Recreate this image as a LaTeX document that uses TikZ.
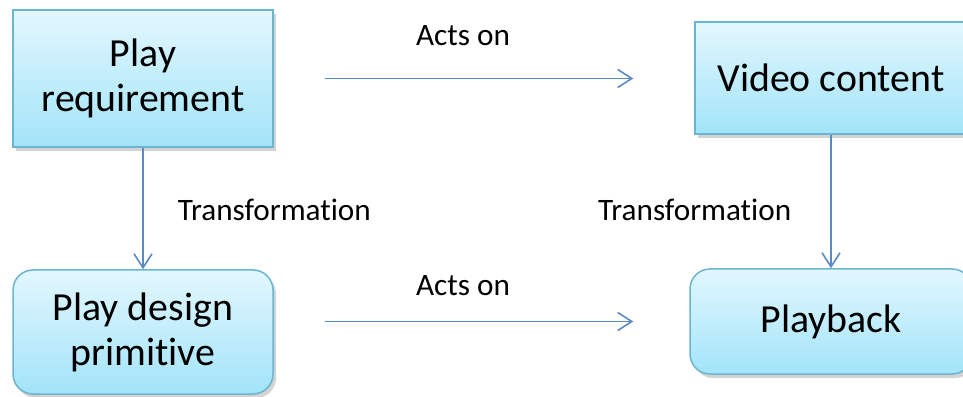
\documentclass[tikz,border=0pt]{standalone}
\usepackage{fontspec}
\setmainfont{Carlito}[Ligatures=NoCommon,RawFeature=-calt]
\usetikzlibrary{arrows.meta,positioning,shadows}
\definecolor{pbtop}{HTML}{E2F7FE}
\definecolor{pbbot}{HTML}{A2E4F9}
\definecolor{pbedge}{HTML}{6BB5D0}
\definecolor{pbarrow}{HTML}{5A89C6}
\tikzset{
  blk/.style={draw=pbedge,line width=0.75pt,top color=pbtop,bottom color=pbbot,
              align=center,inner sep=2pt,font=\fontsize{19.9}{22.5}\selectfont,
              drop shadow={shadow xshift=1.5pt,shadow yshift=-2pt,opacity=0.35}},
  rblk/.style={blk,rounded corners=10pt},
  ar/.style={-{Straight Barb[length=7pt,width=9pt]},line width=0.8pt,pbarrow},
  lab/.style={font=\fontsize{15.6}{18}\selectfont,text=black,inner sep=0pt},
}

\begin{document}
\begin{tikzpicture}[x=0.5pt,y=0.5pt]
    \path[use as bounding box,clip] (0,0) rectangle (963,396);
    \node[blk,minimum width=130pt,minimum height=68.5pt] (req) at (143,317.5) {Play\\requirement};
    \node[blk,minimum width=136pt,minimum height=56pt]   (vid) at (831,318)   {Video content};
    \node[rblk,minimum width=130pt,minimum height=62pt]  (prim) at (143,64)   {Play design\\primitive};
    \node[rblk,minimum width=141pt,minimum height=52.5pt] (pb) at (831,74.5)  {Playback};
    \draw[ar,shorten <=25.5pt,shorten >=30.5pt] (req.east) -- (req.east-|vid.west)
         node[lab,midway,yshift=21.5pt,xshift=-10.5pt]{Acts on};
    \draw[ar,shorten <=25.5pt,shorten >=28pt] (pb.west-|prim.east) -- (pb.west)
         node[lab,midway,yshift=18pt,xshift=-9.25pt]{Acts on};
    \draw[ar] (req.south) -- node[lab,right=17pt,yshift=-0.75pt]{Transformation} (prim.north);
    \draw[ar] (vid.south) -- node[lab,left=19.5pt,yshift=-4.25pt]{Transformation} (vid.south|-pb.north);
  \end{tikzpicture}
\end{document}
